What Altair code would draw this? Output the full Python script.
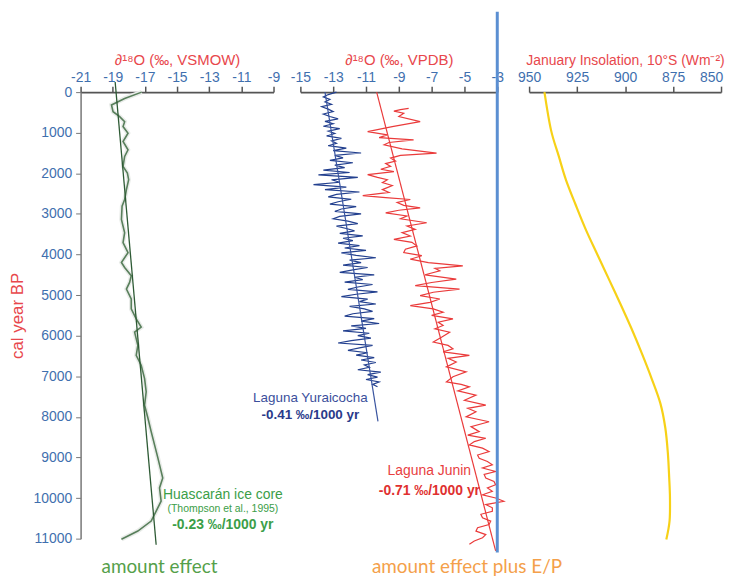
import altair as alt
import pandas as pd

# ---------------- data ----------------
Y_TICKS = [0, 1000, 2000, 3000, 4000, 5000, 6000, 7000, 8000, 9000, 10000, 11000]
X1_TICKS = [-21, -19, -17, -15, -13, -11, -9]
X2_TICKS = [-15, -13, -11, -9, -7, -5, -3]
X3_TICKS = [950, 925, 900, 875, 850]

# Huascarán ice core (year BP, d18O VSMOW)
GREEN = [(0, -17.2), (155, -18.26), (318, -19.08), (482, -18.98), (604, -18.57), (727, -18.26),
         (849, -18.36), (1013, -18.05), (1217, -18.36), (1421, -18.05), (1584, -18.26),
         (1829, -18.36), (1993, -18.09), (2156, -18.01), (2401, -18.15), (2646, -18.26),
         (2809, -18.42), (3136, -18.46), (3463, -18.26), (3708, -18.36), (3953, -18.05),
         (4198, -18.46), (4320, -18.26), (4524, -17.85), (4688, -17.95), (4851, -18.15),
         (5096, -17.85), (5341, -17.85), (5586, -17.54), (5790, -17.23), (5913, -17.64),
         (6240, -17.44), (6484, -17.54), (6729, -17.23), (7056, -17.02), (7383, -16.92),
         (7710, -17.02), (8036, -16.81), (8363, -16.61), (8690, -16.40), (9016, -16.19),
         (9343, -15.99), (9506, -15.89), (9751, -16.09), (10078, -15.99), (10323, -16.30),
         (10568, -16.61), (10813, -17.44), (11017, -18.46)]
GREEN_TREND = [(-250, -18.85), (11150, -16.30)]

# Laguna Yuraicocha (d18O VPDB), sampled every 60 yr from 0 to 7260 BP
BLUE_YEARS = list(range(0, 7320, 60))
BLUE_VALUES = [
    -12.8, -13.3, -13.6, -13.2, -13.5, -13.1, -13.7, -13.3, -13.0, -13.6,
    -13.2, -12.7, -13.5, -13.0, -13.6, -12.6, -13.3, -12.9, -13.4, -12.5,
    -13.1, -12.8, -13.3, -12.2, -13.0, -11.3, -12.9, -12.4, -13.2, -11.8,
    -12.9, -12.3, -13.6, -12.0, -13.9, -11.5, -13.1, -12.6, -14.2, -12.2,
    -13.5, -11.4, -12.8, -13.3, -11.9, -12.7, -13.2, -11.6, -12.5, -12.9,
    -11.3, -12.6, -13.0, -12.1, -11.5, -12.8, -12.2, -11.7, -12.6, -11.2,
    -12.4, -11.8, -12.7, -11.4, -12.3, -11.0, -12.5, -11.6, -10.4, -12.0,
    -11.3, -12.4, -10.9, -11.8, -12.6, -10.5, -11.7, -11.2, -12.3, -10.6,
    -11.5, -12.1, -10.3, -11.6, -12.5, -10.9, -11.4, -10.4, -12.0, -11.1,
    -10.6, -11.8, -12.3, -10.5, -11.3, -10.2, -11.9, -11.0, -12.4, -10.8,
    -11.5, -10.7, -11.9, -12.7, -10.6, -11.4, -12.1, -10.9, -11.6, -10.5,
    -11.3, -10.4, -11.1, -10.8, -11.5, -10.1, -10.9, -10.3, -11.0, -10.2,
    -10.6, -10.3]
BLUE_TREND = [(0, -13.5), (8110, -10.27)]

# Laguna Junin (d18O VPDB)
RED = [(400, -8.4), (430, -8.9), (470, -9.3), (520, -8.7), (600, -9.0), (727, -7.7), (850, -9.4),
       (972, -10.9), (1053, -9.7), (1120, -10.2), (1176, -8.1), (1240, -9.6), (1298, -9.9),
       (1400, -8.8), (1503, -6.7), (1560, -8.9), (1625, -9.5), (1700, -9.2), (1760, -9.8),
       (1829, -9.5), (1900, -10.1), (1960, -9.3), (2034, -10.9), (2100, -10.3), (2156, -9.7),
       (2230, -10.0), (2300, -9.4), (2401, -10.0), (2470, -9.6), (2548, -11.2), (2600, -9.8),
       (2646, -8.3), (2720, -9.1), (2790, -8.7), (2850, -7.7), (2910, -9.0), (2973, -9.8),
       (3050, -8.5), (3120, -8.9), (3218, -7.3), (3299, -8.5), (3380, -8.0), (3460, -8.8),
       (3544, -8.3), (3626, -9.3), (3700, -8.2), (3789, -7.9), (3870, -8.6), (3953, -8.7),
       (4030, -7.6), (4116, -8.3), (4200, -7.2), (4279, -5.1), (4340, -6.8), (4402, -6.5),
       (4500, -7.4), (4606, -5.5), (4690, -7.0), (4769, -8.0), (4851, -5.3), (4930, -6.9),
       (5014, -7.7), (5096, -6.5), (5180, -7.1), (5259, -8.3), (5340, -6.9), (5423, -6.3),
       (5500, -7.0), (5586, -5.7), (5670, -6.6), (5749, -6.3), (5830, -6.8), (5913, -5.9),
       (6040, -6.4), (6158, -6.9), (6240, -6.0), (6321, -5.7), (6400, -6.3), (6484, -4.7),
       (6560, -6.0), (6648, -5.5), (6770, -6.1), (6893, -4.9), (7010, -5.7), (7138, -6.1),
       (7200, -5.2), (7261, -4.7), (7360, -5.4), (7465, -4.3), (7590, -5.0), (7711, -3.7),
       (7790, -4.8), (7874, -4.3), (8000, -4.9), (8120, -3.5), (8240, -4.6), (8365, -4.1),
       (8450, -4.8), (8528, -3.7), (8610, -4.4), (8691, -4.7), (8770, -3.9), (8855, -3.5),
       (8940, -4.2), (9018, -4.1), (9100, -3.6), (9181, -3.3), (9260, -3.9), (9345, -3.1),
       (9420, -3.8), (9508, -3.7), (9590, -3.2), (9671, -3.1), (9750, -3.6), (9835, -3.3),
       (9920, -3.9), (9998, -3.1), (10080, -2.6), (10161, -3.7), (10240, -3.3), (10325, -3.3),
       (10400, -4.0), (10488, -3.9), (10570, -3.4), (10651, -3.5), (10730, -4.2), (10815, -4.3),
       (10900, -3.7), (10978, -3.9), (11060, -4.4), (11141, -4.7)]
RED_TREND = [(0, -10.35), (11300, -3.1)]

# January insolation 10°S (W/m2)
YELLOW = [(0, 942.0), (930, 938.6), (1584, 934.5), (2160, 930.8), (2768, 925.8), (3380, 920.5),
          (3993, 914.5), (4600, 908.5), (5218, 902.4), (5830, 896.6), (6443, 891.2),
          (7050, 886.2), (7668, 881.6), (8280, 879.0), (8893, 877.7), (9500, 877.0),
          (10000, 876.6), (10560, 876.8), (11020, 878.5)]

# vertical marker at -3 permil (VPDB), spanning beyond the plot
RULE = [(-3, -1980, 11340)]

# annotations: (text, x, year)
P1_TEXT = [("Huascarán ice core", -12.15, 9922)]
P1_SMALL = [("(Thompson et al., 1995)", -12.15, 10266)]
P1_BOLD = [("-0.23 ‰/1000 yr", -12.15, 10657)]
P1_BOTTOM = [("amount effect", -19.7, 11690)]
P2_BLUE_TEXT = [("Laguna Yuraicocha", -14.39, 7546)]
P2_BLUE_BOLD = [("-0.41 ‰/1000 yr", -14.39, 7962)]
P2_RED_TEXT = [("Laguna Junin", -4.6, 9334)]
P2_RED_BOLD = [("-0.71 ‰/1000 yr", -4.05, 9824)]
P2_BOTTOM = [("amount effect plus E/P", -10.64, 11690)]

# ---------------- styling ----------------
FONT = "Liberation Sans"
TITLE_RED = "#e8474c"
LABEL_BLUE = "#3f6fae"
AXIS_GREY = "#555555"
H = 449
W1, W2, W3 = 194, 198, 193


def pts(pairs):
    return pd.DataFrame(pairs, columns=["year", "x"])


def txt(rows):
    return pd.DataFrame(rows, columns=["label", "x", "year"])


def xenc(domain, title, values, reverse=False, last_shift=0, title_size=15):
    extra = {}
    if last_shift:
        extra["labelOffset"] = {"condition": {"test": f"datum.value == {values[-1]}",
                                              "value": last_shift}, "value": 0}
    return alt.X(
        "x:Q",
        scale=alt.Scale(domain=domain, nice=False, zero=False, reverse=reverse),
        axis=alt.Axis(
            orient="top", values=values, title=title, labelExpr="toString(datum.value)",
            grid=False, tickSize=6, labelPadding=2, titlePadding=3, labelFlush=False,
            labelFontSize=14, titleFontSize=title_size, labelColor=LABEL_BLUE, titleColor=TITLE_RED,
            titleFontWeight="normal", domainColor=AXIS_GREY, domainWidth=2,
            tickColor=AXIS_GREY, tickWidth=1.5, labelFont=FONT, titleFont=FONT, **extra,
        ),
    )


YSCALE = alt.Scale(domain=[0, 11000], reverse=True, nice=False, zero=False)
Y_AXIS = alt.Y(
    "year:Q", scale=YSCALE,
    axis=alt.Axis(
        values=Y_TICKS, title="cal year BP", labelExpr="toString(datum.value)", grid=False,
        tickSize=5, labelPadding=4, titlePadding=6, labelFontSize=14, titleFontSize=17,
        labelColor=LABEL_BLUE, titleColor=TITLE_RED, titleFontWeight="normal", labelFlush=False,
        domainColor="#777777", domainWidth=1.5, tickColor="#777777", labelFont=FONT, titleFont=FONT,
    ),
)
Y_NONE = alt.Y("year:Q", scale=YSCALE, axis=None)


def line(df, color, width, x, y, interp="linear", opacity=1.0):
    return alt.Chart(df).mark_line(color=color, strokeWidth=width, interpolate=interp,
                                   opacity=opacity).encode(x=x, y=y, order="year:Q")


def text(rows, x, y, color, size, weight="normal", align="center", font=FONT):
    return alt.Chart(txt(rows)).mark_text(
        color=color, fontSize=size, fontWeight=weight, align=align, baseline="middle", font=font
    ).encode(x=x, y=y, text="label:N")


# ---------------- panel 1 ----------------
x1 = xenc([-21, -9], "∂¹⁸O (‰, VSMOW)", X1_TICKS)
green = "#3b9e48"
p1 = alt.layer(
    line(pts(GREEN), "#e9ece9", 4.5, x1, Y_AXIS),
    line(pts(GREEN), "#587f5b", 1.6, x1, Y_AXIS),
    line(pts(GREEN_TREND), "#2d5a34", 1.3, x1, Y_AXIS),
    text(P1_TEXT, x1, Y_AXIS, green, 14),
    text(P1_SMALL, x1, Y_AXIS, green, 10.5),
    text(P1_BOLD, x1, Y_AXIS, green, 14, "bold"),
    text(P1_BOTTOM, x1, Y_AXIS, "#55a04a", 19, align="left", font="Lato"),
).properties(width=W1, height=H)

# ---------------- panel 2 ----------------
x2 = xenc([-15, -3], "∂¹⁸O (‰, VPDB)", X2_TICKS)
blue_df = pd.DataFrame({"year": BLUE_YEARS, "x": BLUE_VALUES})
rule_df = pd.DataFrame(RULE, columns=["x", "year", "year2"])
p2 = alt.layer(
    line(blue_df, "#23408f", 1.2, x2, Y_NONE),
    line(pts(BLUE_TREND), "#3a55a0", 1.2, x2, Y_NONE),
    line(pts(RED), "#ea3b3b", 1.2, x2, Y_NONE),
    line(pts(RED_TREND), "#ea3b3b", 1.2, x2, Y_NONE),
    alt.Chart(rule_df).mark_rule(color="#5b8fd2", strokeWidth=3).encode(
        x=x2, y=Y_NONE, y2="year2:Q"),
    text(P2_BLUE_TEXT, x2, Y_NONE, "#3b4f9c", 13.5),
    text(P2_BLUE_BOLD, x2, Y_NONE, "#2a3a8a", 13.5, "bold"),
    text(P2_RED_TEXT, x2, Y_NONE, "#e8403f", 14, align="right"),
    text(P2_RED_BOLD, x2, Y_NONE, "#e0302f", 14, "bold", align="right"),
    text(P2_BOTTOM, x2, Y_NONE, "#f4a04a", 19, align="left", font="Lato"),
).properties(width=W2, height=H)

# ---------------- panel 3 ----------------
x3 = xenc([850, 950], "January Insolation, 10°S (Wm⁻²)", X3_TICKS, reverse=True,
          last_shift=-10, title_size=14)
p3 = alt.layer(
    line(pts(YELLOW), "#f7d117", 2.2, x3, Y_NONE, "cardinal"),
).properties(width=W3, height=H)

chart = alt.hconcat(
    p1,
    alt.hconcat(p2, p3, spacing=32, bounds="flush"),
    spacing=27, bounds="flush",
).properties(
    padding={"left": 1, "top": 0, "right": 0, "bottom": 0}
).configure(font=FONT, background="white").configure_view(stroke=None)

chart.save("out.html", embed_options={"renderer": "svg", "actions": False})
